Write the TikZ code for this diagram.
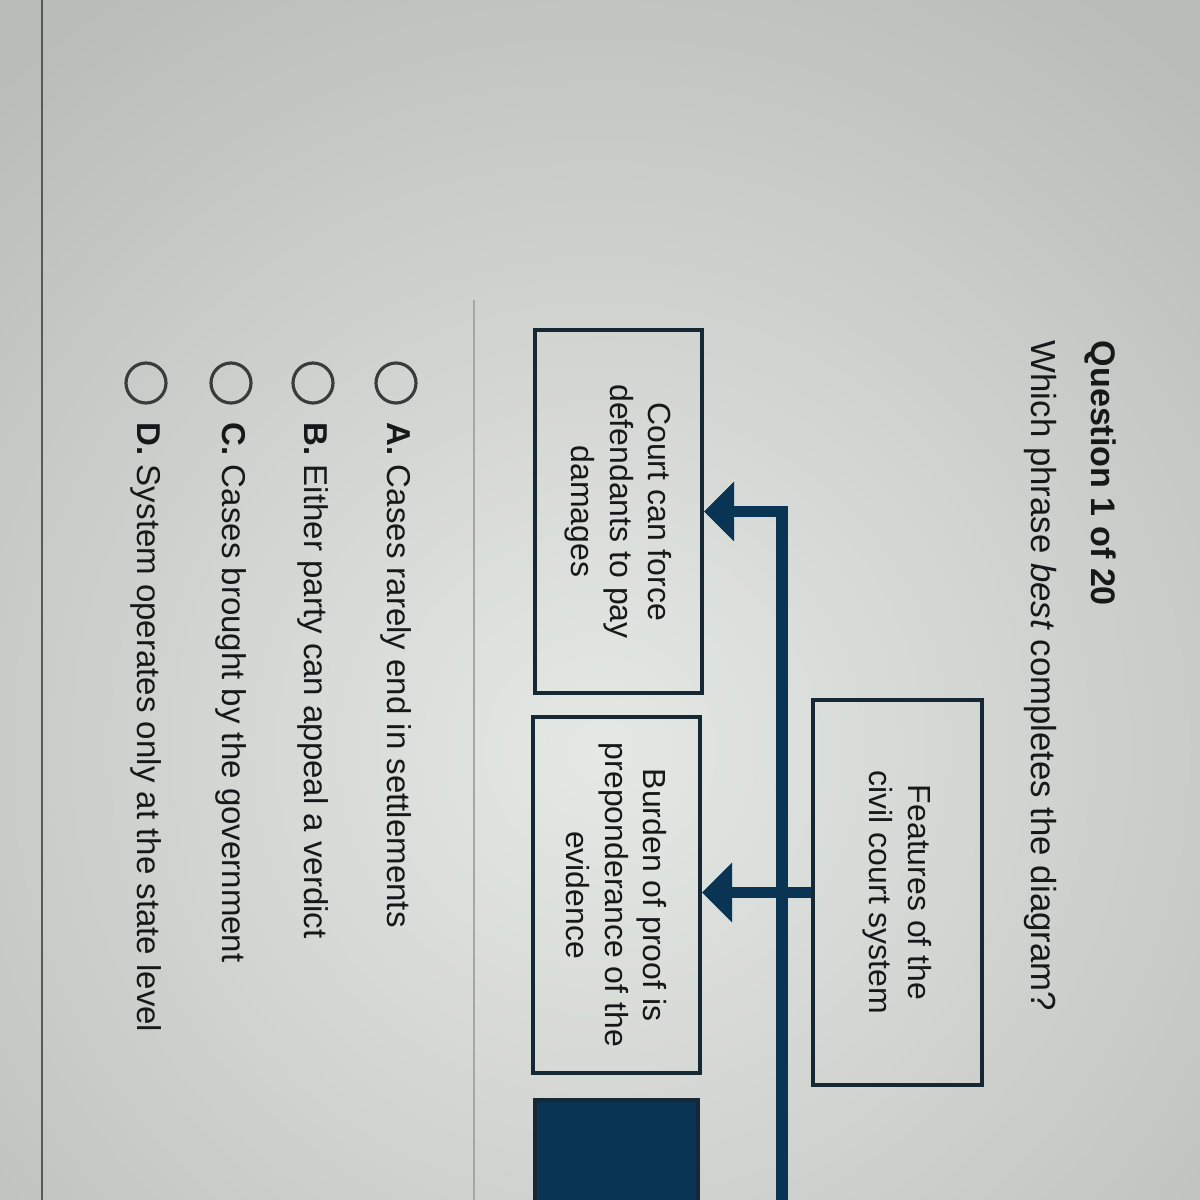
\documentclass[tikz,border=0pt]{standalone}
\usepackage{fontspec}
\setmainfont{Liberation Sans}
\usetikzlibrary{arrows.meta,shadings}
\definecolor{navy}{RGB}{10,52,84}
\definecolor{ink}{RGB}{22,24,26}
\definecolor{boxline}{RGB}{22,40,52}
\definecolor{bgin}{RGB}{229,233,229}
\definecolor{bgout}{RGB}{186,188,186}

\begin{document}
\begin{tikzpicture}[
  card/.style={draw=boxline,line width=1.2pt,rotate=-90,align=center,text=ink,
    font=\fontsize{9.1}{11}\selectfont,inner sep=0pt},
  link/.style={navy,line width=3.2pt,-{Triangle[length=0.3cm,width=0.58cm]}},
  radio/.style={circle,draw=ink!85,line width=0.9pt,minimum size=0.4cm,inner sep=0pt},
  choice/.style={rotate=-90,anchor=west,inner sep=0pt,text=ink,
    font=\fontsize{9.4}{11}\selectfont}]
\useasboundingbox (0,0) rectangle (12,-12);
\clip (0,0) rectangle (12,-12);
\shade[inner color=bgin,outer color=bgout] (-3,-16.5) rectangle (15,1.5);
\draw[gray!70!black,line width=0.5pt] (0.42,0) -- (0.42,-12);
\draw[gray!70,line width=0.5pt] (4.74,-3.0) -- (4.74,-12);
\node[rotate=-90,anchor=west,inner sep=0pt,text=ink,
  font=\bfseries\fontsize{9.7}{12}\selectfont] (title) at (11.0,-3.4) {Question 1 of 20};
\node[choice,font=\fontsize{9.9}{12}\selectfont] (prompt) at (10.4,-3.4)
  {Which phrase \textit{best} completes the diagram?};
\node[card,minimum width=3.63cm,minimum height=1.67cm] (court) at (6.185,-5.115)
  {Court can force\\defendants to pay\\damages};
\node[card,minimum width=3.56cm,minimum height=1.67cm] (burden) at (6.165,-8.95)
  {Burden of proof is\\preponderance of the\\evidence};
\node[card,minimum width=3.85cm,minimum height=1.69cm] (features) at (8.975,-8.925)
  {Features of the\\civil court system};
\node[card,fill=navy,minimum width=3.6cm,minimum height=1.63cm] (blank) at (6.165,-12.8) {};
\coordinate (trunkend) at (7.82,-12.5);
\draw[link] (trunkend) |- (court);
\draw[link] (features.south) -- (features.south -| burden.north);
\foreach \x/\l/\t in {3.96/A/Cases rarely end in settlements,
  3.13/B/Either party can appeal a verdict,
  2.31/C/Cases brought by the government,
  1.46/D/System operates only at the state level}{
  \node[radio] (radio\l) at (\x,-3.83) {};
  \node[choice] (choice\l) at (\x,-4.22) {\textbf{\l.} \t};
}
\end{tikzpicture}
\end{document}
